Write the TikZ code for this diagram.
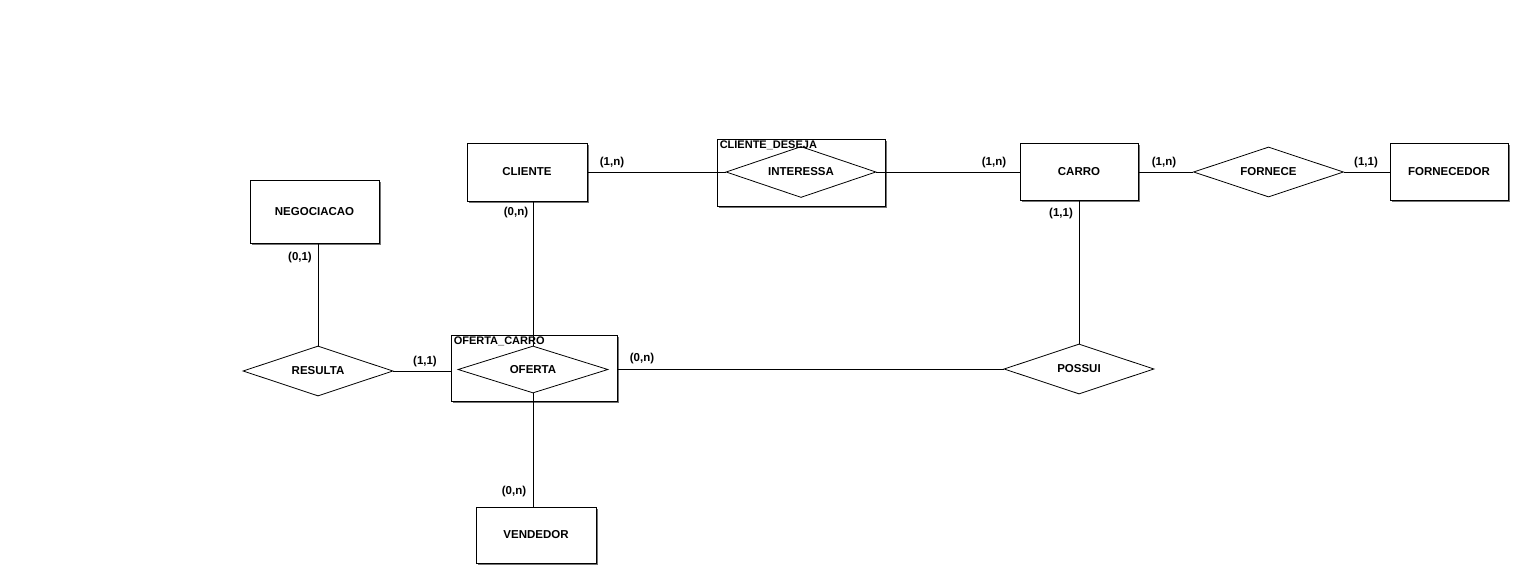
\documentclass[tikz,border=0pt]{standalone}
\usepackage{fontspec}
\setmainfont{Liberation Sans}
\usetikzlibrary{shapes.geometric,shadows}

\begin{document}
\begin{tikzpicture}[x=1pt,y=-1pt,
  every node/.style={font=\bfseries\fontsize{11.5}{13}\selectfont},
  entity/.style={draw, fill=white, line width=0.9pt, inner sep=0pt,
    drop shadow={shadow xshift=1.8pt, shadow yshift=-1.8pt, fill=black!55, opacity=1}},
  assoc/.style={entity},
  rel/.style={draw, diamond, inner sep=0pt, line width=0.8pt,
    minimum width=150pt, minimum height=50pt},
  card/.style={font=\bfseries\fontsize{11.5}{13}\selectfont, inner sep=0pt},
  boxlabel/.style={anchor=north west, inner sep=0pt, font=\bfseries\fontsize{11}{12}\selectfont},
  link/.style={line width=0.8pt}]

\useasboundingbox (0,0) rectangle (1518,569);

% entities
\node[entity, minimum width=120pt, minimum height=58pt] (cliente) at (527,172) {CLIENTE};
\node[entity, minimum width=118pt, minimum height=57pt] (carro) at (1079,172) {CARRO};
\node[entity, minimum width=118pt, minimum height=57pt] (fornecedor) at (1449,172) {FORNECEDOR};
\node[entity, minimum width=129pt, minimum height=63pt] (negociacao) at (314.5,211.5) {NEGOCIACAO};
\node[entity, minimum width=120pt, minimum height=56pt] (vendedor) at (536,535) {VENDEDOR};

% associative entities
\node[assoc, minimum width=168pt, minimum height=67pt] (clientedeseja) at (801,172.5) {};
\node[boxlabel] (clientedesejalbl) at ([xshift=3pt,yshift=-2pt]clientedeseja.north west) {CLIENTE\_DESEJA};
\node[assoc, minimum width=166pt, minimum height=66pt] (ofertacarro) at (534,368) {};
\node[boxlabel] (ofertacarrolbl) at ([xshift=3pt,yshift=-2pt]ofertacarro.north west) {OFERTA\_CARRO};

% relationships
\node[rel, minimum height=51pt, label=center:INTERESSA] (interessa) at (801,172) {};
\node[rel, label=center:FORNECE] (fornece) at (1268.5,172) {};
\node[rel, label=center:POSSUI] (possui) at (1079,369) {};
\node[rel, label=center:RESULTA] (resulta) at (318,371) {};
\node[rel, minimum height=47pt, label=center:OFERTA] (oferta) at (533,369.5) {};

% connectors
\draw[link] (cliente.east) -- (interessa.west);
\draw[link] (interessa.east) -- (carro.west);
\draw[link] (carro.east) -- (fornece.west);
\draw[link] (fornece.east) -- (fornecedor.west);
\draw[link] (possui.north) -- (possui.north |- carro.south);
\draw[link] (resulta.north) -- (resulta.north |- negociacao.south);
\draw[link] (resulta.east) -- (resulta.east -| ofertacarro.west);
\draw[link] (possui.west) -- (possui.west -| ofertacarro.east);
\draw[link] (oferta.north) -- (oferta.north |- cliente.south);
\draw[link] (oferta.south) -- (oferta.south |- vendedor.north);

% cardinalities
\node[card] (c1) at (612,163) {(1,n)};
\node[card] (c2) at (516,213) {(0,n)};
\node[card] (c3) at (994,163) {(1,n)};
\node[card] (c4) at (1164,163) {(1,n)};
\node[card] (c5) at (1366,163) {(1,1)};
\node[card] (c6) at (1061,214) {(1,1)};
\node[card] (c7) at (300,258) {(0,1)};
\node[card] (c8) at (425,362) {(1,1)};
\node[card] (c9) at (642,359) {(0,n)};
\node[card] (c10) at (514,492) {(0,n)};
\end{tikzpicture}
\end{document}
